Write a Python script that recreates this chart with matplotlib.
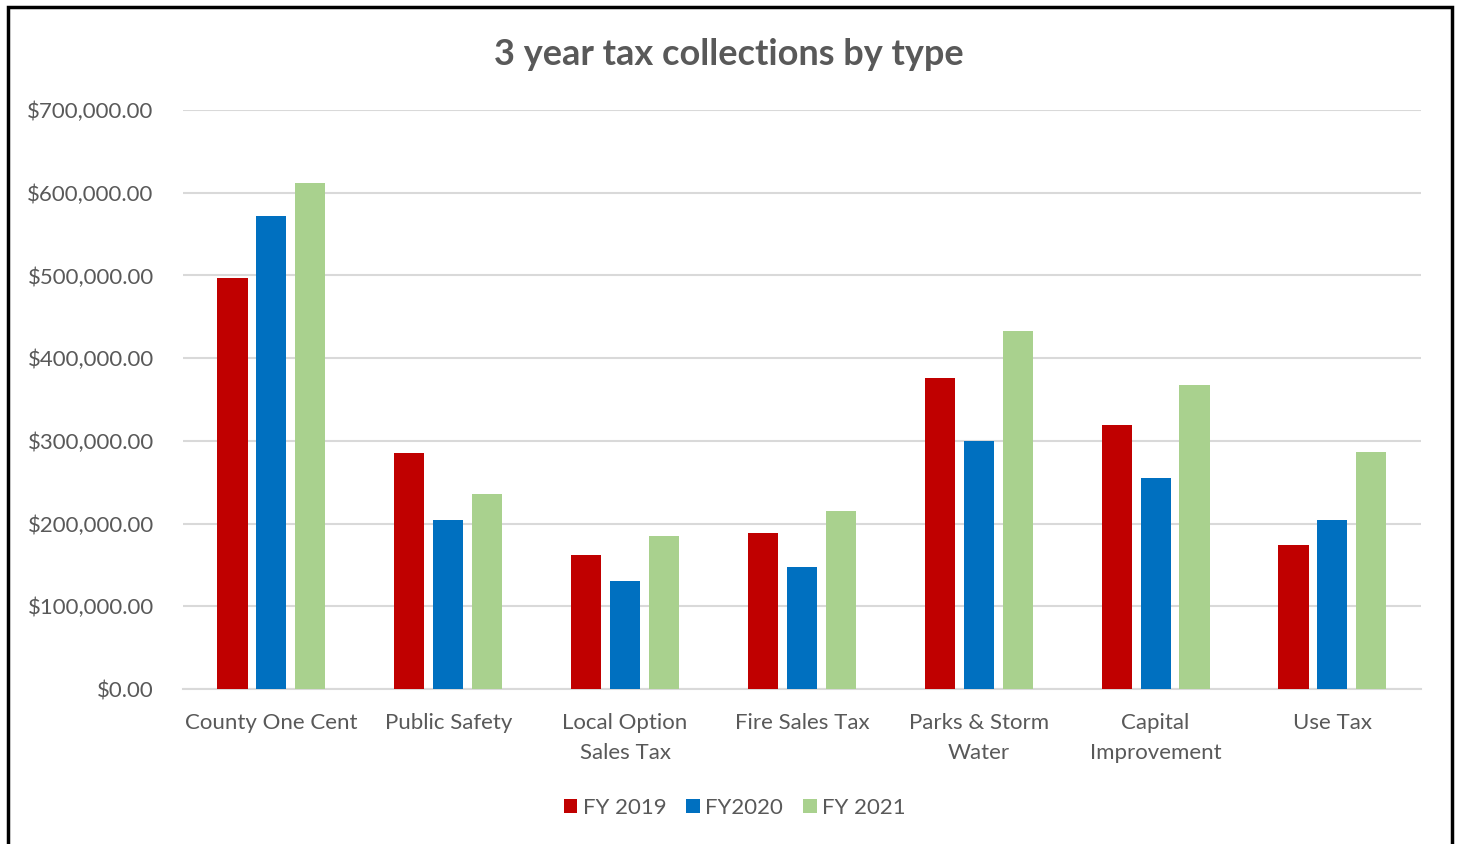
import numpy as np
import matplotlib.pyplot as plt
from matplotlib.patches import Rectangle
from matplotlib.ticker import FuncFormatter

# data
categories = ['County One Cent', 'Public Safety', 'Local Option\nSales Tax',
              'Fire Sales Tax', 'Parks & Storm\nWater', 'Capital\nImprovement', 'Use Tax']
fy2019 = [497000, 285000, 162000, 189000, 376000, 319000, 174000]
fy2020 = [572000, 204000, 131000, 147000, 300000, 255000, 204000]
fy2021 = [612000, 236000, 185000, 215000, 433000, 368000, 287000]
series_names = ['FY 2019', 'FY2020', 'FY 2021']
series_colors = ['#C00000', '#0070C0', '#A9D18E']

plt.rcParams['font.family'] = ['Lato', 'DejaVu Sans']
text_gray = '#595959'

fig = plt.figure(figsize=(14.58, 8.44), dpi=100)
ax = fig.add_axes([0.1255, 0.1836, 0.849, 0.686])

x = np.arange(len(categories))
w = 0.17
for i, (vals, name, c) in enumerate(zip([fy2019, fy2020, fy2021], series_names, series_colors)):
    ax.bar(x + (i - 1) * 0.22, vals, width=w, color=c, label=name, zorder=3)

ax.set_xlim(-0.5, len(categories) - 0.5)
ax.set_ylim(0, 700000)
ax.set_yticks(np.arange(0, 700001, 100000))
ax.yaxis.set_major_formatter(FuncFormatter(lambda v, p: f'${v:,.2f}'))
ax.set_xticks(x)
ax.set_xticklabels(categories, linespacing=1.65)
ax.tick_params(axis='both', length=0, labelsize=16, colors=text_gray)
ax.tick_params(axis='y', pad=21)
ax.tick_params(axis='x', pad=17)
ax.grid(axis='y', color='#D9D9D9', linewidth=1.5, zorder=0)
for s in ['top', 'right', 'left']:
    ax.spines[s].set_visible(False)
ax.spines['bottom'].set_color('#D9D9D9')
ax.spines['bottom'].set_linewidth(1.5)

fig.text(0.5, 0.936, '3 year tax collections by type', ha='center', va='center',
         fontsize=26, fontweight='bold', color=text_gray)

leg = fig.legend(loc='center', bbox_to_anchor=(0.504, 0.043), ncol=3, frameon=False,
                 fontsize=16, handlelength=0.6, handleheight=0.6, handletextpad=0.25,
                 columnspacing=0.9)
for t in leg.get_texts():
    t.set_color(text_gray)

# outer frame, cut off at the bottom like the screenshot
fig.patches.append(Rectangle((8 / 1458, -0.05), 1444 / 1458, (837 / 844) + 0.05,
                             transform=fig.transFigure, fill=False,
                             edgecolor='black', linewidth=2.5))

fig.savefig('out.png', dpi=100)
